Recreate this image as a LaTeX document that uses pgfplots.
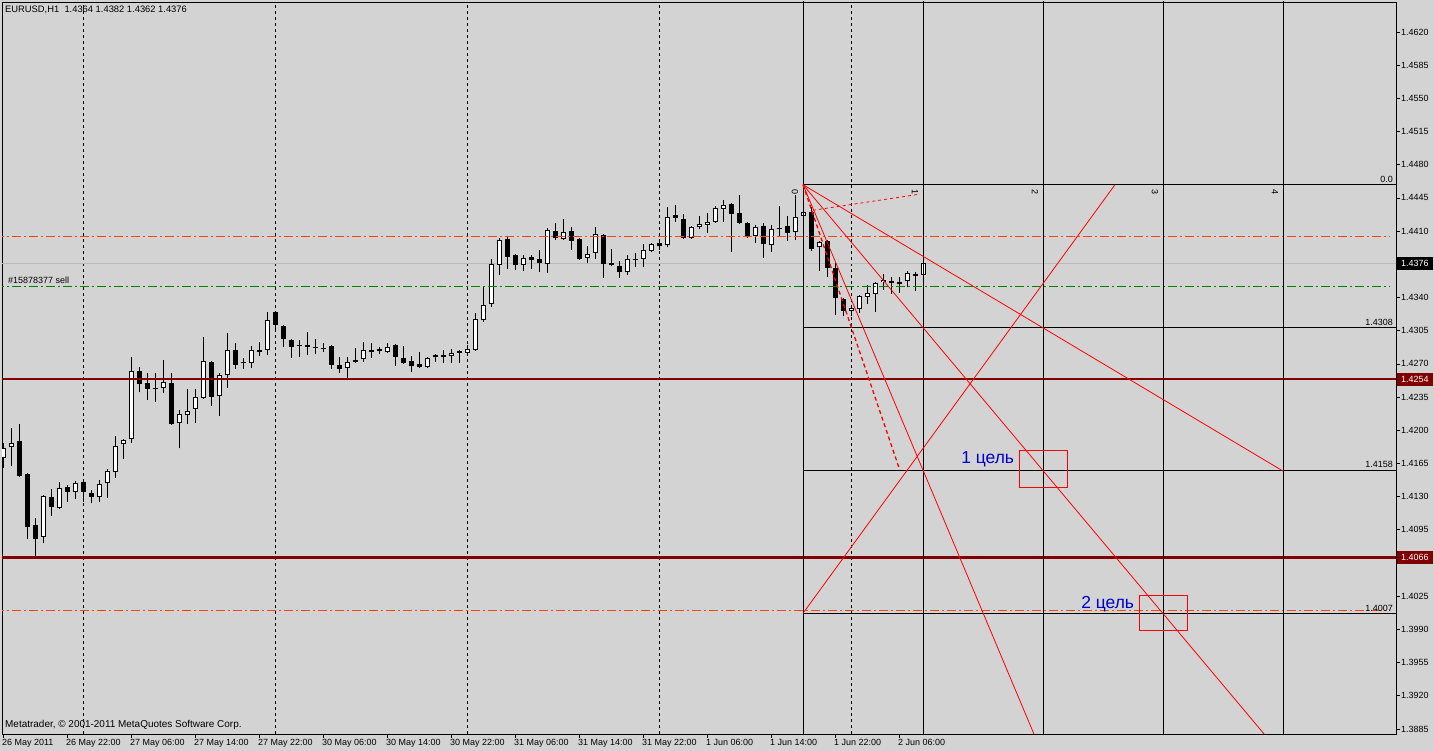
\documentclass[border=0pt]{standalone}
\usepackage{pgfplots}
\usepackage{pgfplotstable}
\pgfplotsset{compat=1.18}
\usepackage{fontspec}
\setmainfont{Liberation Sans}
\definecolor{bgc}{RGB}{211,211,211}
\definecolor{fanred}{RGB}{255,0,0}
\definecolor{orng}{RGB}{255,69,0}
\definecolor{grn}{RGB}{0,128,0}
\definecolor{mrn}{RGB}{128,0,0}
\definecolor{tgtblue}{RGB}{0,0,205}
\definecolor{bidgray}{RGB}{185,185,185}

\pgfplotstableread{
k o h l c
0 1.4171 1.4187 1.4160 1.4181
1 1.4182 1.4202 1.4162 1.4187
2 1.4189 1.4207 1.4151 1.4152
3 1.4154 1.4155 1.4085 1.4098
4 1.4100 1.4108 1.4066 1.4085
5 1.4088 1.4132 1.4081 1.4131
6 1.4130 1.4138 1.4110 1.4119
7 1.4118 1.4146 1.4117 1.4139
8 1.4140 1.4142 1.4124 1.4135
9 1.4135 1.4147 1.4128 1.4144
10 1.4146 1.4148 1.4124 1.4135
11 1.4134 1.4137 1.4123 1.4130
12 1.4130 1.4148 1.4124 1.4143
13 1.4144 1.4159 1.4129 1.4157
14 1.4156 1.4194 1.4150 1.4183
15 1.4186 1.4191 1.4170 1.4190
16 1.4191 1.4277 1.4187 1.4262
17 1.4263 1.4267 1.4240 1.4249
18 1.4250 1.4260 1.4232 1.4244
19 1.4245 1.4260 1.4230 1.4244
20 1.4245 1.4274 1.4239 1.4251
21 1.4250 1.4260 1.4206 1.4207
22 1.4208 1.4221 1.4181 1.4217
23 1.4216 1.4244 1.4207 1.4220
24 1.4222 1.4244 1.4208 1.4235
25 1.4234 1.4298 1.4233 1.4273
26 1.4272 1.4273 1.4226 1.4235
27 1.4236 1.4260 1.4215 1.4258
28 1.4258 1.4303 1.4245 1.4285
29 1.4285 1.4292 1.4265 1.4269
30 1.4272 1.4276 1.4265 1.4271
31 1.4271 1.4289 1.4266 1.4285
32 1.4285 1.4293 1.4278 1.4283
33 1.4285 1.4325 1.4279 1.4316
34 1.4325 1.4326 1.4306 1.4311
35 1.4310 1.4311 1.4288 1.4296
36 1.4295 1.4296 1.4276 1.4288
37 1.4290 1.4295 1.4277 1.4289
38 1.4290 1.4304 1.4279 1.4288
39 1.4288 1.4296 1.4280 1.4287
40 1.4287 1.4292 1.4283 1.4286
41 1.4289 1.4290 1.4265 1.4269
42 1.4269 1.4277 1.4260 1.4265
43 1.4266 1.4277 1.4255 1.4272
44 1.4274 1.4287 1.4271 1.4272
45 1.4275 1.4293 1.4272 1.4285
46 1.4285 1.4292 1.4276 1.4283
47 1.4286 1.4288 1.4280 1.4284
48 1.4283 1.4292 1.4281 1.4288
49 1.4290 1.4291 1.4268 1.4277
50 1.4276 1.4289 1.4270 1.4271
51 1.4273 1.4278 1.4261 1.4268
52 1.4270 1.4283 1.4266 1.4267
53 1.4267 1.4277 1.4266 1.4276
54 1.4277 1.4280 1.4272 1.4279
55 1.4279 1.4285 1.4271 1.4277
56 1.4278 1.4286 1.4271 1.4282
57 1.4284 1.4285 1.4271 1.4282
58 1.4282 1.4290 1.4281 1.4286
59 1.4285 1.4324 1.4284 1.4317
60 1.4316 1.4351 1.4314 1.4332
61 1.4333 1.4381 1.4330 1.4375
62 1.4374 1.4403 1.4364 1.4401
63 1.4402 1.4405 1.4370 1.4383
64 1.4385 1.4386 1.4369 1.4374
65 1.4374 1.4385 1.4368 1.4382
66 1.4383 1.4385 1.4370 1.4380
67 1.4381 1.4390 1.4367 1.4376
68 1.4375 1.4413 1.4366 1.4411
69 1.4410 1.4419 1.4401 1.4403
70 1.4402 1.4423 1.4401 1.4409
71 1.4410 1.4414 1.4390 1.4400
72 1.4402 1.4403 1.4380 1.4381
73 1.4382 1.4394 1.4376 1.4386
74 1.4387 1.4414 1.4381 1.4407
75 1.4406 1.4407 1.4361 1.4375
76 1.4376 1.4391 1.4373 1.4374
77 1.4373 1.4379 1.4361 1.4367
78 1.4367 1.4385 1.4364 1.4381
79 1.4381 1.4387 1.4372 1.4380
80 1.4381 1.4396 1.4372 1.4390
81 1.4389 1.4398 1.4388 1.4396
82 1.4397 1.4399 1.4390 1.4394
83 1.4395 1.4435 1.4393 1.4425
84 1.4427 1.4438 1.4420 1.4424
85 1.4423 1.4428 1.4402 1.4403
86 1.4403 1.4415 1.4402 1.4414
87 1.4414 1.4426 1.4412 1.4418
88 1.4417 1.4429 1.4408 1.4420
89 1.4420 1.4437 1.4419 1.4434
90 1.4433 1.4443 1.4420 1.4438
91 1.4439 1.4440 1.4388 1.4428
92 1.4429 1.4448 1.4418 1.4419
93 1.4419 1.4420 1.4403 1.4404
94 1.4405 1.4417 1.4398 1.4414
95 1.4415 1.4419 1.4382 1.4396
96 1.4395 1.4417 1.4388 1.4412
97 1.4413 1.4437 1.4404 1.4412
98 1.4415 1.4426 1.4400 1.4408
99 1.4409 1.4448 1.4401 1.4425
100 1.4426 1.4459 1.4425 1.4430
101 1.4430 1.4435 1.4389 1.4391
102 1.4393 1.4400 1.4368 1.4399
103 1.4400 1.4401 1.4362 1.4371
104 1.4371 1.4376 1.4322 1.4340
105 1.4338 1.4339 1.4320 1.4326
106 1.4326 1.4332 1.4320 1.4329
107 1.4328 1.4343 1.4324 1.4342
108 1.4341 1.4353 1.4333 1.4345
109 1.4344 1.4356 1.4325 1.4355
110 1.4356 1.4365 1.4348 1.4359
111 1.4357 1.4362 1.4344 1.4355
112 1.4356 1.4362 1.4345 1.4354
113 1.4357 1.4368 1.4351 1.4366
114 1.4365 1.4367 1.4347 1.4363
115 1.4364 1.4382 1.4362 1.4376
}\candles

\newcommand{\sm}{\fontsize{9}{10}\selectfont}
\pgfplotsset{candle/.style={only marks, mark=*, mark size=0pt, mark options={draw=none, fill=none},
  error bars/.cd, y dir=plus, y explicit, error mark=none}}

\begin{document}
\begin{tikzpicture}
\path[use as bounding box, fill=bgc] (0,0) rectangle (1434bp,751bp);
\begin{axis}[
  at={(2bp,17bp)}, anchor=south west,
  scale only axis, width=1394bp, height=732bp,
  xmin=-0.125, xmax=174.125, ymin=1.387974, ymax=1.465164,
  clip mode=individual,
  axis line style={black, line width=0.8bp},
  tick style={black, line width=0.8bp},
  tick align=outside, major tick length=4bp,
  xtick pos=bottom, ytick pos=right, yticklabel pos=right,
  xtick={0,8,16,24,32,40,48,56,64,72,80,88,96,104,112},
  xticklabels={26 May 2011,26 May 22:00,27 May 06:00,27 May 14:00,27 May 22:00,30 May 06:00,30 May 14:00,30 May 22:00,31 May 06:00,31 May 14:00,31 May 22:00,1 Jun 06:00,1 Jun 14:00,1 Jun 22:00,2 Jun 06:00},
  xticklabel style={anchor=north west, inner sep=0pt, xshift=-1bp, yshift=-1bp, font=\sm},
  ytick={1.3885,1.3920,1.3955,1.3990,1.4025,1.4095,1.4130,1.4165,1.4200,1.4235,1.4270,1.4305,1.4340,1.4410,1.4445,1.4480,1.4515,1.4550,1.4585,1.4620},
  yticklabel style={anchor=west, inner sep=0pt, xshift=1bp, font=\sm},
  /pgf/number format/assume math mode=true,
  yticklabel={\pgfmathprintnumber[fixed,fixed zerofill,precision=4]{\tick}},
  extra x ticks={10,34,58,82,106}, extra x tick labels={},
  extra x tick style={grid=major, major tick length=0pt},
  major grid style={black, line width=0.8bp, dash pattern=on 3bp off 3bp},
]
% bid line
\addplot[bidgray, line width=0.8bp] coordinates {(-1,1.4376) (175,1.4376)};
% candles: wicks, bodies, white fills
\addplot[candle, error bar style={black, line width=1bp, solid}]
  table[x=k, y=l, y error plus expr={\thisrow{h}-\thisrow{l}}] {\candles};
\addplot[candle, error bar style={black, line width=5bp, solid}]
  table[x=k, y expr={min(\thisrow{o},\thisrow{c})}, y error plus expr={max(abs(\thisrow{c}-\thisrow{o}),0.0001)}] {\candles};
\addplot[candle, error bar style={white, line width=3bp, solid}]
  table[x=k, y expr={\thisrow{o}+0.000105}, y error plus expr={max(\thisrow{c}-\thisrow{o}-0.00021,0)}] {\candles};
% horizontal level lines
\addplot[orng, line width=1bp, dash pattern=on 9bp off 3bp on 2bp off 3bp] coordinates {(-1,1.44044) (173.4,1.44044)};
\addplot[orng, line width=1bp, dash pattern=on 9bp off 3bp on 2bp off 3bp] coordinates {(-1,1.4010) (173.4,1.4010)};
\addplot[grn, line width=1bp, dash pattern=on 9bp off 3bp on 2bp off 3bp] coordinates {(-1,1.43516) (173.4,1.43516)};
\addplot[mrn, line width=2.5bp] coordinates {(-1,1.4254) (175,1.4254)};
\addplot[mrn, line width=2.5bp] coordinates {(-1,1.4066) (175,1.4066)};
% Gann grid
\addplot[black, line width=1bp] coordinates {(100,1.38) (100,1.47)};
\addplot[black, line width=1bp] coordinates {(115,1.38) (115,1.47)};
\addplot[black, line width=1bp] coordinates {(130,1.38) (130,1.47)};
\addplot[black, line width=1bp] coordinates {(145,1.38) (145,1.47)};
\addplot[black, line width=1bp] coordinates {(160,1.38) (160,1.47)};
\addplot[black, line width=1bp] coordinates {(100,1.4459) (175,1.4459)};
\addplot[black, line width=1bp] coordinates {(100,1.4308) (175,1.4308)};
\addplot[black, line width=1bp] coordinates {(100,1.4158) (175,1.4158)};
\addplot[black, line width=1bp] coordinates {(100,1.4007) (175,1.4007)};
% fan lines
\addplot[fanred, line width=0.8bp] coordinates {(100,1.4459) (160,1.4157)};
\addplot[fanred, line width=0.8bp] coordinates {(100,1.4459) (160,1.3856)};
\addplot[fanred, line width=0.8bp] coordinates {(100,1.4459) (130,1.3857)};
\addplot[fanred, line width=0.8bp] coordinates {(100,1.4007) (139,1.4459)};
\addplot[fanred, line width=1.3bp, dash pattern=on 4bp off 3bp] coordinates {(100,1.4459) (112.1,1.4158)};
\addplot[fanred, line width=0.8bp, dash pattern=on 3bp off 3bp] coordinates {(101.25,1.4432) (114.6,1.4449)};
% target boxes
\addplot[fanred, line width=0.8bp] coordinates {(127.0,1.4179) (133.1,1.4179) (133.1,1.4140) (127.0,1.4140) (127.0,1.4179)};
\addplot[fanred, line width=0.8bp] coordinates {(142.0,1.4026) (148.1,1.4026) (148.1,1.3989) (142.0,1.3989) (142.0,1.4026)};
% texts
\node[anchor=base east, inner sep=0pt, text=tgtblue, font=\fontsize{17.5}{19}\selectfont] at (axis cs:126.4,1.41655) {1 цель};
\node[anchor=base east, inner sep=0pt, text=tgtblue, font=\fontsize{17.5}{19}\selectfont] at (axis cs:141.4,1.40126) {2 цель};
\node[rotate=-90, inner sep=0pt, font=\sm] at (axis cs:99,1.44515) {0};
\node[rotate=-90, inner sep=0pt, font=\sm] at (axis cs:114,1.44515) {1};
\node[rotate=-90, inner sep=0pt, font=\sm] at (axis cs:129,1.44515) {2};
\node[rotate=-90, inner sep=0pt, font=\sm] at (axis cs:144,1.44515) {3};
\node[rotate=-90, inner sep=0pt, font=\sm] at (axis cs:159,1.44515) {4};
\node[anchor=south east, inner sep=0pt, font=\sm, yshift=2bp] at (axis cs:173.75,1.4459) {0.0};
\node[anchor=south east, inner sep=0pt, font=\sm, yshift=2bp] at (axis cs:173.75,1.4308) {1.4308};
\node[anchor=south east, inner sep=0pt, font=\sm, yshift=2bp] at (axis cs:173.75,1.4158) {1.4158};
\node[anchor=south east, inner sep=0pt, font=\sm, yshift=2bp] at (axis cs:173.75,1.4007) {1.4007};
\node[anchor=west, inner sep=0pt, font=\sm] at (axis cs:0.625,1.43585) {\#15878377 sell};
\node[anchor=west, inner sep=0pt, font=\fontsize{9.4}{10}\selectfont, xshift=3bp, yshift=-8bp] at (rel axis cs:0,1) {EURUSD,H1\ \ 1.4364 1.4382 1.4362 1.4376};
\node[anchor=west, inner sep=0pt, font=\fontsize{10}{11}\selectfont, xshift=3bp, yshift=9bp] at (rel axis cs:0,0) {Metatrader, © 2001-2011 MetaQuotes Software Corp.};
% price boxes on right axis
\node[anchor=west, fill=black, text=white, inner sep=0pt, minimum width=36bp, minimum height=13bp, font=\sm, xshift=0.6bp] at (axis cs:174.125,1.4376) {1.4376};
\node[anchor=west, fill=mrn, text=white, inner sep=0pt, minimum width=36bp, minimum height=13bp, font=\sm, xshift=0.6bp] at (axis cs:174.125,1.4254) {1.4254};
\node[anchor=west, fill=mrn, text=white, inner sep=0pt, minimum width=36bp, minimum height=13bp, font=\sm, xshift=0.6bp] at (axis cs:174.125,1.4066) {1.4066};
\end{axis}
\end{tikzpicture}
\end{document}
